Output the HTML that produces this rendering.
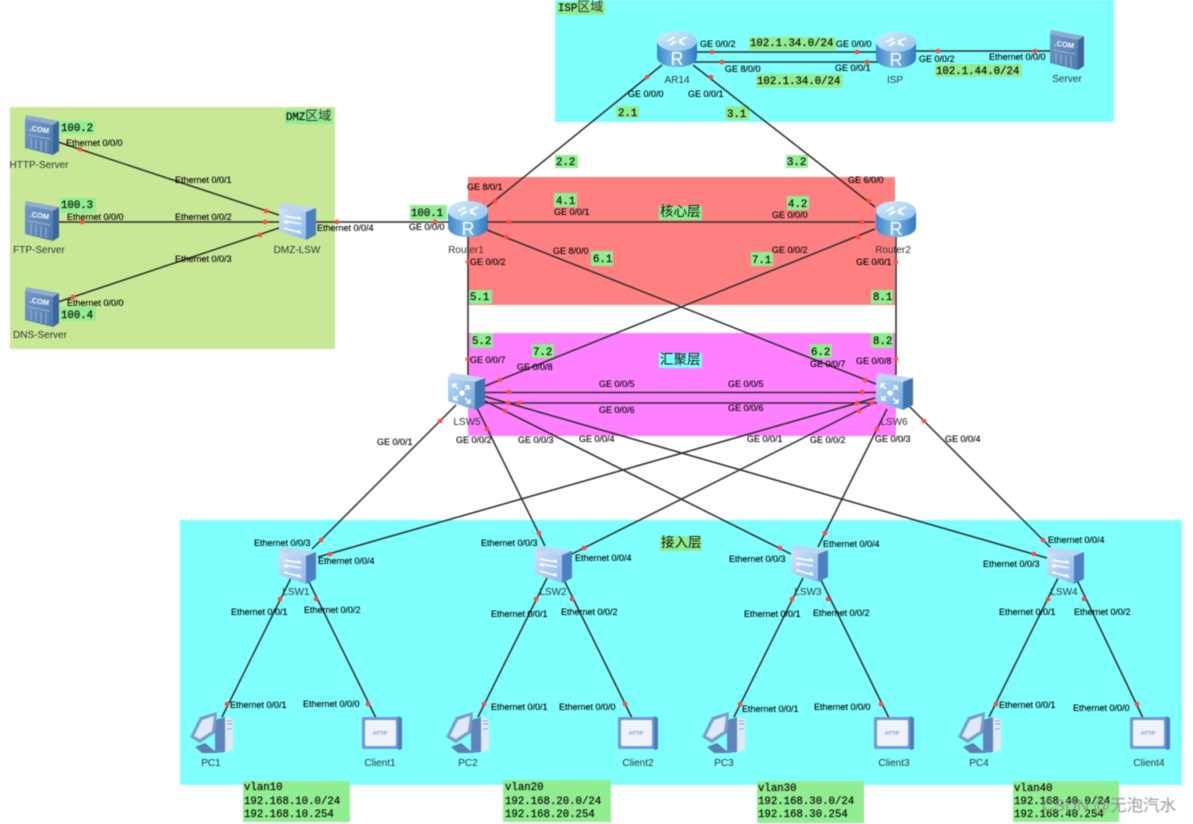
<!DOCTYPE html>
<html><head><meta charset="utf-8"><title>Network topology</title>
<style>
html,body{margin:0;padding:0;background:#fff;width:1193px;height:824px;overflow:hidden}
svg{display:block;filter:blur(.4px)}
.p{font:9px "Liberation Sans",sans-serif;fill:#000;stroke:#000;stroke-width:.12}
.n{font:10px "Liberation Sans",sans-serif;fill:#333;text-anchor:middle}
.m{font:10.7px "Liberation Mono","Noto Sans CJK SC",monospace;fill:#111;stroke:#111;stroke-width:.25}
.m tspan{stroke-width:0;fill:#333}
.c{font:13.5px "Liberation Mono","Noto Sans CJK SC",sans-serif;fill:#111}
.g{fill:#90ee90}
.l line{stroke:#2c2c2c;stroke-width:1.5}
.d circle{fill:#ff4a3c;r:2.3px}
</style></head><body>
<svg width="1193" height="824" viewBox="0 0 1193 824" xmlns="http://www.w3.org/2000/svg">
<defs>
<linearGradient id="rg" x1="0" x2="1" y1="0" y2="0"><stop offset="0" stop-color="#3f86c8"/><stop offset=".45" stop-color="#7fbcec"/><stop offset="1" stop-color="#2f78bc"/></linearGradient>
<linearGradient id="rt" x1="0" x2="1" y1="0" y2="1"><stop offset="0" stop-color="#d6ecfb"/><stop offset="1" stop-color="#8fc3ea"/></linearGradient>
<linearGradient id="sf" x1="0" x2="1" y1="0" y2="1"><stop offset="0" stop-color="#cfe2f9"/><stop offset="1" stop-color="#8fb8ea"/></linearGradient>
<linearGradient id="cf" x1="0" x2="1" y1="0" y2="1"><stop offset="0" stop-color="#bcd9f5"/><stop offset="1" stop-color="#6fa6dc"/></linearGradient>
<linearGradient id="sv" x1="0" x2="1" y1="0" y2="1"><stop offset="0" stop-color="#7299c8"/><stop offset="1" stop-color="#4f78ac"/></linearGradient>
<symbol id="router" viewBox="0 0 42 36" width="42" height="36">
<path d="M1 10V26C1 32 10 36 21 36S41 32 41 26V10Z" fill="url(#rg)"/>
<ellipse cx="21" cy="10" rx="20" ry="10" fill="url(#rt)"/>
<path d="M11 10l7-3-2-1M31 6l-7 3 2 1M14 14l5-3-3 0M29 14l-5-3 0 2" stroke="#fff" stroke-width="1.7" fill="none"/>
<text x="21" y="34" text-anchor="middle" font-family="Liberation Sans,sans-serif" font-size="18" fill="#fff">R</text>
</symbol>
<symbol id="sw" viewBox="0 0 38 38" width="38" height="38">
<polygon points="3,0 37,5 27,9 0,5" fill="#bfd6f2"/>
<polygon points="0,5 27,9 27,37 0,28" fill="url(#sf)"/>
<polygon points="27,9 37,5 37,32 27,37" fill="#4d80bd"/>
<path d="M5 13l17 3M22 16l-3-2.5M5 18l17 3M5 18l3 2.5M5 25l17 5M22 30l-3-3" stroke="#fff" stroke-width="1.5" fill="none"/>
</symbol>
<symbol id="core" viewBox="0 0 38 38" width="38" height="38">
<polygon points="3,0 37,5 27,9 0,5" fill="#bfd6f2"/>
<polygon points="0,5 27,9 27,37 0,28" fill="url(#cf)"/>
<polygon points="27,9 37,5 37,32 27,37" fill="#3c74b2"/>
<circle cx="14" cy="20" r="2.8" fill="#fff"/>
<path d="M5 11l5 5M21 13l-4 4M6 27l4-4M22 30l-5-5M5 11h4M5 11v4M21 13h-4M21 13v4M6 27h4M6 27v-4M22 30h-4M22 30v-4" stroke="#fff" stroke-width="1.5" fill="none"/>
</symbol>
<symbol id="srv" viewBox="0 0 34 40" width="34" height="40">
<polygon points="1,0 34,6 28,10 0,4" fill="#8fabd0"/>
<polygon points="0,4 28,10 28,40 0,33" fill="url(#sv)"/>
<polygon points="28,10 34,6 34,36 28,40" fill="#3c659a"/>
<text x="14" y="17" text-anchor="middle" font-family="Liberation Sans,sans-serif" font-size="7.5" font-weight="bold" fill="#fff" transform="rotate(8 14 17)">.COM</text>
<path d="M3 20l22 4M6 23v10M11 24v10M16 25v11M21 26v11" stroke="#8fa9cb" stroke-width="1.4" fill="none"/>
</symbol>
<symbol id="pc" viewBox="0 0 44 44" width="44" height="44">
<polygon points="35,6 43,8 43,39 35,41" fill="#dfe8f6"/>
<polygon points="25,9 35,6 35,41 25,42" fill="#5e86bb"/>
<polygon points="0,26 10,6 27,1 25,22 10,32" fill="#7a9ccb"/>
<polygon points="4,25 12,9 24,5 22,20 10,28" fill="#dbe9f9"/>
<polygon points="5,36 15,32 27,42 12,42" fill="#5e7fb0"/>
<path d="M37 10h5M37 13h5M37 18h5" stroke="#8aa5c9"/>
</symbol>
<symbol id="cli" viewBox="0 0 40 34" width="40" height="34">
<rect x="0" y="1" width="38" height="32" rx="2" fill="#7199d4"/>
<polygon points="36,0 40,2 40,33 36,34" fill="#4f7ab8"/>
<rect x="3" y="4" width="31" height="26" rx="2" fill="#eef4fc"/>
<text x="18" y="19" text-anchor="middle" font-family="Liberation Sans,sans-serif" font-size="5.5" font-weight="bold" font-style="italic" fill="#7a9ccb">HTTP</text>
</symbol>
</defs>

<!-- regions -->
<rect x="555" y="0" width="559" height="122" fill="#80ffff"/>
<rect x="10" y="107" width="325" height="242" fill="#c8e896"/>
<rect x="468" y="177" width="427" height="128" fill="#ff8080"/>
<rect x="468" y="333" width="428" height="103" fill="#ff80ff"/>
<rect x="180" y="520" width="1002" height="265" fill="#80ffff"/>

<!-- label backgrounds -->
<g class="g">
<rect x="60" y="121" width="35" height="13"/><rect x="60" y="198" width="36" height="15"/><rect x="60" y="307" width="36" height="14"/>
<rect x="285" y="110" width="48" height="14"/><rect x="557" y="2" width="48" height="13"/>
<rect x="749" y="37" width="87" height="13"/><rect x="756" y="74" width="87" height="14"/><rect x="935" y="64" width="87" height="13"/>
<rect x="616" y="106" width="23" height="12"/><rect x="725" y="106" width="24" height="14"/>
<rect x="555" y="155" width="23" height="13"/><rect x="786" y="155" width="22" height="13"/>
<rect x="554" y="193" width="23" height="14"/><rect x="787" y="196" width="22" height="14"/>
<rect x="591" y="251" width="22" height="15"/><rect x="751" y="252" width="22" height="14"/>
<rect x="469" y="290" width="23" height="14"/><rect x="871" y="290" width="22" height="14"/>
<rect x="471" y="333" width="22" height="15"/><rect x="871" y="333" width="22" height="15"/>
<rect x="532" y="344" width="22" height="14"/><rect x="810" y="344" width="22" height="14"/>
<rect x="410" y="205" width="37" height="15"/>
<rect x="659" y="206" width="43" height="14"/><rect x="660" y="536" width="42" height="15"/>
<rect x="243" y="781" width="107" height="41"/><rect x="503" y="780" width="108" height="42"/><rect x="757" y="781" width="107" height="42"/><rect x="1013" y="781" width="106" height="41"/>
</g>
<rect x="659" y="353" width="43" height="15" fill="#80ffff"/>

<!-- connectors -->
<g class="l">
<line x1="58" y1="142" x2="279" y2="215"/><line x1="58" y1="222" x2="279" y2="222"/><line x1="58" y1="302" x2="279" y2="228"/>
<line x1="316" y1="222" x2="448" y2="222"/>
<line x1="690" y1="52" x2="878" y2="52"/><line x1="690" y1="62" x2="878" y2="62"/><line x1="912" y1="51" x2="1050" y2="51"/>
<line x1="662" y1="65" x2="487" y2="207"/><line x1="693" y1="65" x2="875" y2="207"/>
<line x1="487" y1="222" x2="875" y2="222"/>
<line x1="487" y1="230" x2="876" y2="384"/><line x1="875" y1="229" x2="485" y2="386"/>
<line x1="468" y1="235" x2="468" y2="375"/><line x1="896" y1="235" x2="896" y2="375"/>
<line x1="485" y1="392.5" x2="877" y2="392.5"/><line x1="485" y1="403" x2="877" y2="403"/>
<line x1="456" y1="405" x2="312" y2="549"/><line x1="477" y1="408" x2="545" y2="546"/>
<line x1="485" y1="401" x2="791" y2="554"/><line x1="485" y1="396.5" x2="1047" y2="558"/>
<line x1="875" y1="398" x2="318" y2="557"/><line x1="875" y1="402" x2="572" y2="554"/>
<line x1="887" y1="409" x2="818" y2="547"/><line x1="907" y1="404" x2="1052" y2="549"/>
<line x1="291" y1="578" x2="222" y2="717"/><line x1="307" y1="578" x2="376" y2="718"/>
<line x1="547" y1="578" x2="478" y2="717"/><line x1="563" y1="578" x2="632" y2="718"/>
<line x1="803" y1="578" x2="734" y2="717"/><line x1="820" y1="578" x2="889" y2="718"/>
<line x1="1058" y1="578" x2="989" y2="717"/><line x1="1076" y1="578" x2="1143" y2="718"/>
</g>

<!-- nodes -->
<use href="#srv" x="25" y="115"/><use href="#srv" x="25" y="201"/><use href="#srv" x="25" y="287"/><use href="#srv" x="1050" y="30"/>
<use href="#sw" x="279" y="203"/>
<use href="#router" x="656" y="31"/><use href="#router" x="875" y="32"/><use href="#router" x="447" y="201"/><use href="#router" x="875" y="201"/>
<use href="#core" x="448" y="373"/><use href="#core" x="876" y="373"/>
<use href="#sw" x="279" y="547"/><use href="#sw" x="535" y="546"/><use href="#sw" x="791" y="545"/><use href="#sw" x="1047" y="547"/>
<use href="#pc" x="190" y="711"/><use href="#pc" x="446" y="711"/><use href="#pc" x="702" y="711"/><use href="#pc" x="958" y="711"/>
<use href="#cli" x="362" y="716"/><use href="#cli" x="618" y="716"/><use href="#cli" x="874" y="716"/><use href="#cli" x="1130" y="716"/>

<!-- red port dots -->
<g class="d">
<circle cx="80" cy="149"/><circle cx="266" cy="211"/><circle cx="265" cy="222"/><circle cx="260" cy="235"/><circle cx="82" cy="222"/><circle cx="73" cy="297"/><circle cx="337" cy="222"/><circle cx="435" cy="222"/>
<circle cx="712" cy="52"/><circle cx="722" cy="62"/><circle cx="857" cy="52"/><circle cx="867" cy="62"/><circle cx="938" cy="51"/><circle cx="1035" cy="51"/><circle cx="647" cy="77"/><circle cx="711" cy="77"/>
<circle cx="495" cy="201"/><circle cx="509" cy="222"/><circle cx="506" cy="237"/><circle cx="468" cy="262"/><circle cx="468" cy="359"/><circle cx="500" cy="380"/><circle cx="509" cy="392"/><circle cx="519" cy="403"/><circle cx="508" cy="403"/><circle cx="505" cy="411"/><circle cx="487" cy="429"/><circle cx="440" cy="421"/>
<circle cx="869" cy="201"/><circle cx="862" cy="222"/><circle cx="858" cy="237"/><circle cx="896" cy="262"/><circle cx="896" cy="359"/><circle cx="865" cy="380"/><circle cx="862" cy="392"/><circle cx="857" cy="403"/><circle cx="872" cy="403"/><circle cx="859" cy="411"/><circle cx="877" cy="429"/><circle cx="924" cy="421"/>
<circle cx="321" cy="540"/><circle cx="330" cy="554"/><circle cx="280" cy="599"/><circle cx="316" cy="599"/><circle cx="227" cy="704"/><circle cx="368" cy="704"/>
<circle cx="539" cy="533"/><circle cx="584" cy="548"/><circle cx="536" cy="599"/><circle cx="572" cy="599"/><circle cx="484" cy="704"/><circle cx="625" cy="704"/>
<circle cx="780" cy="548"/><circle cx="825" cy="533"/><circle cx="792" cy="599"/><circle cx="828" cy="599"/><circle cx="740" cy="704"/><circle cx="881" cy="704"/>
<circle cx="1043" cy="540"/><circle cx="1034" cy="554"/><circle cx="1048" cy="599"/><circle cx="1084" cy="599"/><circle cx="996" cy="704"/><circle cx="1137" cy="704"/>
</g>

<!-- port labels -->
<g class="p">
<text x="66" y="146">Ethernet 0/0/0</text><text x="175" y="183">Ethernet 0/0/1</text><text x="67" y="220">Ethernet 0/0/0</text><text x="175" y="220">Ethernet 0/0/2</text><text x="175" y="262">Ethernet 0/0/3</text><text x="67" y="306">Ethernet 0/0/0</text><text x="317" y="231">Ethernet 0/0/4</text>
<text x="700" y="47">GE 0/0/2</text><text x="836" y="47">GE 0/0/0</text><text x="725" y="72">GE 8/0/0</text><text x="835" y="71">GE 0/0/1</text><text x="919" y="62">GE 0/0/2</text><text x="989" y="60">Ethernet 0/0/0</text><text x="628" y="97">GE 0/0/0</text><text x="688" y="97">GE 0/0/1</text>
<text x="467" y="190">GE 8/0/1</text><text x="554" y="215">GE 0/0/1</text><text x="409" y="230">GE 0/0/0</text><text x="553" y="254">GE 8/0/0</text><text x="470" y="265">GE 0/0/2</text><text x="470" y="363">GE 0/0/7</text><text x="517" y="370">GE 0/0/8</text><text x="599" y="387">GE 0/0/5</text><text x="599" y="413">GE 0/0/6</text><text x="456" y="443">GE 0/0/2</text><text x="518" y="443">GE 0/0/3</text><text x="579" y="442">GE 0/0/4</text><text x="377" y="445">GE 0/0/1</text>
<text x="848" y="183">GE 6/0/0</text><text x="772" y="218">GE 0/0/0</text><text x="772" y="253">GE 0/0/2</text><text x="856" y="265">GE 0/0/1</text><text x="856" y="364">GE 0/0/8</text><text x="810" y="367">GE 0/0/7</text><text x="728" y="387">GE 0/0/5</text><text x="728" y="411">GE 0/0/6</text><text x="747" y="442">GE 0/0/1</text><text x="810" y="443">GE 0/0/2</text><text x="875" y="442">GE 0/0/3</text><text x="945" y="442">GE 0/0/4</text>
<text x="254" y="546">Ethernet 0/0/3</text><text x="318" y="564">Ethernet 0/0/4</text><text x="231" y="615">Ethernet 0/0/1</text><text x="304" y="613">Ethernet 0/0/2</text><text x="230" y="708">Ethernet 0/0/1</text><text x="303" y="707">Ethernet 0/0/0</text>
<text x="481" y="546">Ethernet 0/0/3</text><text x="575" y="561">Ethernet 0/0/4</text><text x="491" y="617">Ethernet 0/0/1</text><text x="561" y="615">Ethernet 0/0/2</text><text x="491" y="710">Ethernet 0/0/1</text><text x="559" y="710">Ethernet 0/0/0</text>
<text x="729" y="562">Ethernet 0/0/3</text><text x="823" y="547">Ethernet 0/0/4</text><text x="744" y="617">Ethernet 0/0/1</text><text x="813" y="616">Ethernet 0/0/2</text><text x="742" y="712">Ethernet 0/0/1</text><text x="814" y="710">Ethernet 0/0/0</text>
<text x="1048" y="543">Ethernet 0/0/4</text><text x="983" y="567">Ethernet 0/0/3</text><text x="999" y="615">Ethernet 0/0/1</text><text x="1074" y="615">Ethernet 0/0/2</text><text x="999" y="708">Ethernet 0/0/1</text><text x="1073" y="711">Ethernet 0/0/0</text>
</g>

<!-- node names -->
<g class="n">
<text x="39" y="168">HTTP-Server</text><text x="39" y="253">FTP-Server</text><text x="40" y="338">DNS-Server</text><text x="297" y="253">DMZ-LSW</text>
<text x="677" y="83">AR14</text><text x="895" y="83">ISP</text><text x="1067" y="82">Server</text>
<text x="466" y="253">Router1</text><text x="893" y="253">Router2</text><text x="467" y="425">LSW5</text><text x="894" y="425">LSW6</text>
<text x="296" y="595">LSW1</text><text x="553" y="595">LSW2</text><text x="808" y="595">LSW3</text><text x="1064" y="595">LSW4</text>
<text x="211" y="766">PC1</text><text x="380" y="766">Client1</text><text x="468" y="766">PC2</text><text x="638" y="766">Client2</text><text x="724" y="766">PC3</text><text x="894" y="766">Client3</text><text x="979" y="766">PC4</text><text x="1149" y="766">Client4</text>
</g>

<!-- green annotations -->
<g class="m">
<text x="61" y="131">100.2</text><text x="61" y="208">100.3</text><text x="61" y="318">100.4</text>
<text x="286" y="120">DMZ<tspan font-size="13">区域</tspan></text><text x="558" y="11">ISP<tspan font-size="13">区域</tspan></text>
<text x="750" y="46">102.1.34.0/24</text><text x="757" y="84">102.1.34.0/24</text><text x="936" y="74">102.1.44.0/24</text>
<text x="618" y="116">2.1</text><text x="727" y="117">3.1</text><text x="556" y="165">2.2</text><text x="787" y="165">3.2</text>
<text x="556" y="204">4.1</text><text x="788" y="207">4.2</text><text x="593" y="262">6.1</text><text x="752" y="263">7.1</text>
<text x="470" y="300">5.1</text><text x="873" y="300">8.1</text><text x="472" y="344">5.2</text><text x="873" y="344">8.2</text>
<text x="533" y="355">7.2</text><text x="811" y="355">6.2</text><text x="411" y="216">100.1</text>
<text x="244" y="790">vlan10</text><text x="244" y="804">192.168.10.0/24</text><text x="244" y="817">192.168.10.254</text>
<text x="505" y="790">vlan20</text><text x="505" y="804">192.168.20.0/24</text><text x="505" y="817">192.168.20.254</text>
<text x="758" y="791">vlan30</text><text x="758" y="804">192.168.30.0/24</text><text x="758" y="817">192.168.30.254</text>
<text x="1014" y="791">vlan40</text><text x="1014" y="804">192.168.40.0/24</text><text x="1014" y="817">192.168.40.254</text>
</g>
<g class="c">
<text x="660" y="216">核心层</text><text x="660" y="364">汇聚层</text><text x="661" y="547">接入层</text>
</g>
<text x="1042" y="811" font-family="Liberation Sans,Noto Sans CJK SC,sans-serif" font-size="16.5" fill="#8a8a8a" fill-opacity=".85">CSDN @无泡汽水</text>
</svg>
</body></html>
